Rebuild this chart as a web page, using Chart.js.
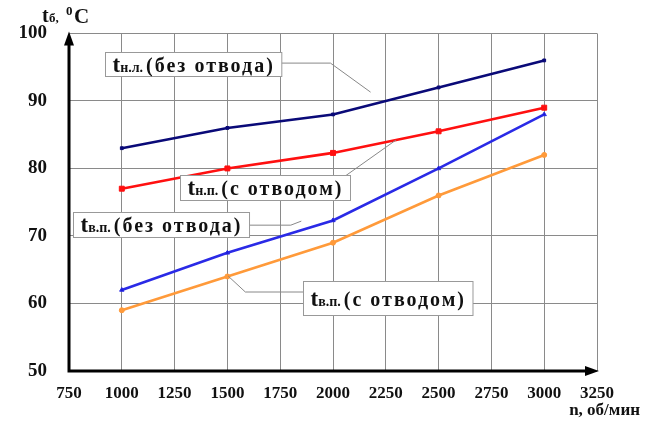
<!DOCTYPE html>
<html>
<head>
<meta charset="utf-8">
<script src="https://cdn.jsdelivr.net/npm/chart.js@4"></script>
<style>
  html, body { margin: 0; padding: 0; background: #fff; }
  #wrap { width: 656px; height: 423px; }
</style>
</head>
<body>
<div id="wrap"><canvas id="myChart" width="656" height="423"></canvas></div>
<script>
'use strict'

// Data

let rpm = [1000, 1500, 2000, 2500, 3000];
let tNL = [83, 86, 88, 92, 96];          // tн.л. (без отвода)
let tNP = [77, 80, 82.3, 85.5, 89];      // tн.п. (с отводом)
let tVPno = [62, 67.5, 72.3, 80, 88];    // tв.п. (без отвода)
let tVPyes = [59, 64, 69, 76, 82];       // tв.п. (с отводом)
let xTicks = [750, 1000, 1250, 1500, 1750, 2000, 2250, 2500, 2750, 3000, 3250];
let yTicks = [50, 60, 70, 80, 90, 100];

const serif = '"Liberation Serif", "DejaVu Serif", serif';

function pts(ys) {
  return rpm.map((x, i) => ({ x: x, y: ys[i] }));
}

// callout boxes: box corner (data), box height, leader path (data)
let callouts = [
  { sub: 'н.л.', rest: '(без отвода)', at: [919, 97.2], h: 24,
    path: [[1700, 95.6], [1988, 95.6], [2178, 91.3]] },
  { sub: 'н.п.', rest: '(с отводом)', at: [1276, 79.0], h: 25,
    path: [[2050, 78.7], [2298, 84.2]] },
  { sub: 'в.п.', rest: '(без отвода)', at: [767, 73.5], h: 25,
    path: [[1560, 71.6], [1800, 71.6], [1850, 72.2]] },
  { sub: 'в.п.', rest: '(с отводом)', at: [1860, 63.3], h: 34,
    path: [[1900, 61.7], [1585, 61.7], [1504, 64.05]] }
];

const decor = {
  id: 'decor',
  afterDraw(chart) {
    const ctx = chart.ctx;
    const xs = chart.scales.x, ys = chart.scales.y;
    const a = chart.chartArea;
    ctx.save();

    // axes with arrows
    ctx.strokeStyle = '#000';
    ctx.fillStyle = '#000';
    ctx.lineWidth = 3;
    ctx.beginPath();
    ctx.moveTo(a.left, a.top + 6);
    ctx.lineTo(a.left, a.bottom);
    ctx.lineTo(a.right - 6, a.bottom);
    ctx.stroke();
    ctx.beginPath();
    ctx.moveTo(a.left, a.top - 2);
    ctx.lineTo(a.left - 5, a.top + 12);
    ctx.lineTo(a.left + 5, a.top + 12);
    ctx.fill();
    ctx.beginPath();
    ctx.moveTo(a.right + 2, a.bottom);
    ctx.lineTo(a.right - 12, a.bottom - 5);
    ctx.lineTo(a.right - 12, a.bottom + 5);
    ctx.fill();

    // callouts
    callouts.forEach(c => {
      ctx.strokeStyle = '#888';
      ctx.lineWidth = 1;
      ctx.beginPath();
      c.path.forEach((p, i) => {
        const px = xs.getPixelForValue(p[0]), py = ys.getPixelForValue(p[1]);
        if (i === 0) ctx.moveTo(px, py); else ctx.lineTo(px, py);
      });
      ctx.stroke();

      const bx = Math.round(xs.getPixelForValue(c.at[0])) + 0.5;
      const by = Math.round(ys.getPixelForValue(c.at[1])) + 0.5;
      ctx.letterSpacing = '0px';
      ctx.font = 'bold 23px ' + serif;
      const w1 = ctx.measureText('t').width;
      ctx.font = 'bold 14px ' + serif;
      const w2 = ctx.measureText(c.sub).width;
      ctx.font = 'bold 20px ' + serif;
      ctx.letterSpacing = '2px';
      const w3 = ctx.measureText(c.rest).width;
      const w = 7 + w1 + w2 + 3 + w3 + 7;
      ctx.fillStyle = '#fff';
      ctx.fillRect(bx, by, w, c.h);
      ctx.strokeStyle = '#999';
      ctx.strokeRect(bx, by, w, c.h);

      const base = by + c.h / 2 + 7;
      ctx.fillStyle = '#111';
      ctx.textBaseline = 'alphabetic';
      ctx.textAlign = 'left';
      ctx.letterSpacing = '0px';
      ctx.font = 'bold 23px ' + serif;
      ctx.fillText('t', bx + 7, base);
      ctx.font = 'bold 14px ' + serif;
      ctx.fillText(c.sub, bx + 7 + w1, base);
      ctx.font = 'bold 20px ' + serif;
      ctx.letterSpacing = '2px';
      ctx.fillText(c.rest, bx + 7 + w1 + w2 + 3, base);
      ctx.letterSpacing = '0px';
    });

    // axis titles
    ctx.fillStyle = '#111';
    ctx.textAlign = 'left';
    ctx.textBaseline = 'alphabetic';
    ctx.font = 'bold 20px ' + serif;
    ctx.fillText('t', 42, 22);
    ctx.font = 'bold 13px ' + serif;
    ctx.fillText('б,', 49, 22);
    ctx.font = 'bold 13px ' + serif;
    ctx.fillText('0', 66, 15);
    ctx.font = 'bold 21px ' + serif;
    ctx.fillText('C', 74, 23);

    ctx.font = 'bold 17px ' + serif;
    ctx.textAlign = 'right';
    ctx.fillText('n, об/мин', 640, 415);
    ctx.restore();
  }
};

const config = {
  type: 'line',
  data: {
    datasets: [
      { label: 'tн.л. (без отвода)', data: pts(tNL), borderColor: '#0a0a78', backgroundColor: '#0a0a78', pointRadius: 2, pointStyle: 'rect' },
      { label: 'tн.п. (с отводом)', data: pts(tNP), borderColor: '#ff1010', backgroundColor: '#ff1010', pointRadius: 3.5, pointStyle: 'rect' },
      { label: 'tв.п. (без отвода)', data: pts(tVPno), borderColor: '#2a2ae6', backgroundColor: '#1a1ad0', pointRadius: 2.5, pointStyle: 'triangle' },
      { label: 'tв.п. (с отводом)', data: pts(tVPyes), borderColor: '#ff9a3a', backgroundColor: '#ff9a3a', pointRadius: 2.5 }
    ]
  },
  options: {
    responsive: false,
    animation: false,
    layout: { padding: { left: 0, right: 59, top: 33, bottom: 0 } },
    elements: { line: { borderWidth: 2.6, tension: 0 } },
    plugins: { legend: { display: false }, tooltip: { enabled: false } },
    scales: {
      x: {
        type: 'linear',
        min: 750,
        max: 3250,
        afterBuildTicks: (s) => { s.ticks = xTicks.map(v => ({ value: v })); },
        afterFit: (s) => { s.height = 52; },
        grid: { color: '#8a8a8a', lineWidth: 1, drawTicks: false },
        border: { display: false },
        ticks: { color: '#111', padding: 12, maxRotation: 0, autoSkip: false,
          callback: (v) => String(v),
          font: { family: serif, size: 17, weight: 'bold' } }
      },
      y: {
        min: 50,
        max: 100,
        afterBuildTicks: (s) => { s.ticks = yTicks.map(v => ({ value: v })); },
        afterFit: (s) => { s.width = 69; },
        grid: { color: '#8a8a8a', lineWidth: 1, drawTicks: false },
        border: { display: false },
        ticks: { color: '#111', padding: 22,
          font: { family: serif, size: 19, weight: 'bold' } }
      }
    }
  },
  plugins: [decor]
};

const myChart = new Chart(document.getElementById('myChart'), config);
</script>
</body>
</html>
